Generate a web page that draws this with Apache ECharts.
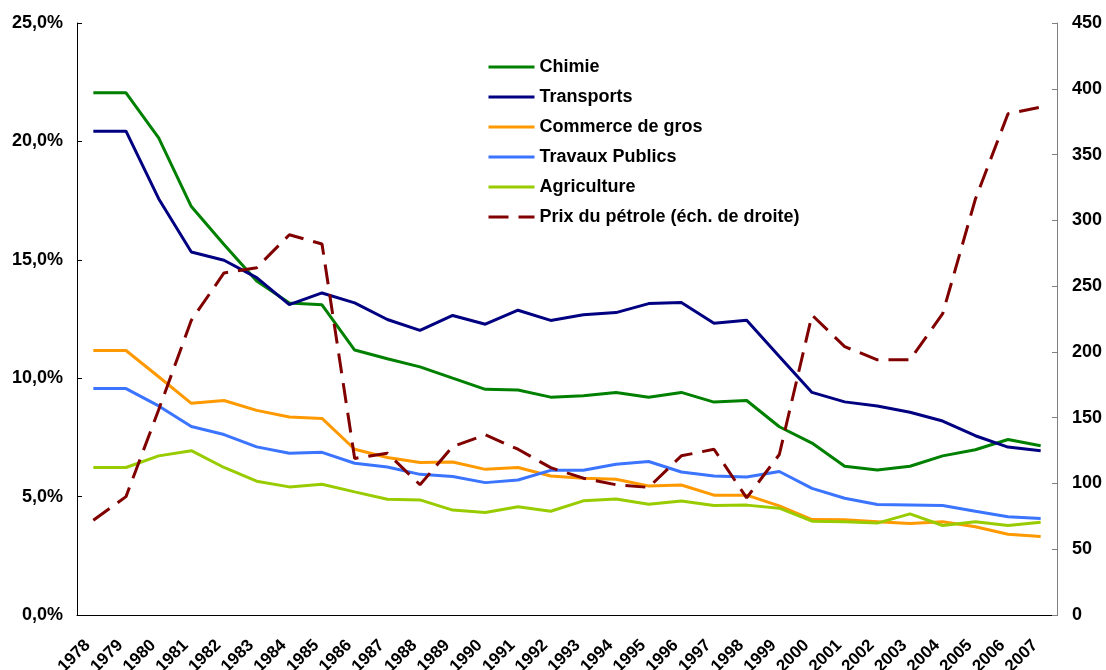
<!DOCTYPE html>
<html>
<head>
<meta charset="utf-8">
<script src="https://cdn.jsdelivr.net/npm/echarts@6/dist/echarts.min.js"></script>
<style>
html,body{margin:0;padding:0;background:#fff;}
#c{width:1106px;height:670px;}
</style>
</head>
<body>
<div id="c"></div>
<script>
const years = ['1978','1979','1980','1981','1982','1983','1984','1985','1986','1987','1988','1989','1990','1991','1992','1993','1994','1995','1996','1997','1998','1999','2000','2001','2002','2003','2004','2005','2006','2007'];
const chimie = [22.05,22.05,20.15,17.25,15.65,14.1,13.18,13.1,11.19,10.82,10.48,10.0,9.53,9.5,9.2,9.26,9.4,9.2,9.4,8.99,9.06,7.95,7.26,6.28,6.12,6.28,6.72,6.98,7.41,7.15];
const transports = [20.43,20.43,17.58,15.33,14.98,14.25,13.11,13.6,13.18,12.48,12.02,12.65,12.28,12.87,12.44,12.68,12.77,13.15,13.2,12.32,12.45,10.92,9.4,9.0,8.83,8.56,8.19,7.57,7.09,6.94];
const commerce = [11.17,11.17,10.06,8.94,9.06,8.64,8.36,8.3,7.0,6.65,6.44,6.46,6.15,6.23,5.87,5.78,5.73,5.45,5.49,5.06,5.06,4.61,4.03,4.02,3.94,3.86,3.94,3.73,3.41,3.31];
const travaux = [9.56,9.56,8.83,7.96,7.62,7.1,6.83,6.87,6.41,6.25,5.94,5.85,5.59,5.7,6.11,6.11,6.37,6.48,6.04,5.87,5.83,6.06,5.35,4.93,4.67,4.65,4.62,4.38,4.15,4.07];
const agriculture = [6.23,6.23,6.72,6.94,6.23,5.65,5.41,5.52,5.2,4.89,4.86,4.43,4.33,4.57,4.38,4.82,4.9,4.68,4.81,4.62,4.64,4.51,3.96,3.94,3.88,4.27,3.78,3.94,3.78,3.92];
const prix = [72,90,156,224,260,264,289,282,119,123,99,128,137,126,112,104,99,97,121,126,89,122,228,204,194,194,229,316,381,386];
const leftTicks = {min:0, max:25, interval:5};
const rightTicks = {min:0, max:450, interval:50};

const FONT = '"Liberation Sans", Arial, sans-serif';
const chart = echarts.init(document.getElementById('c'), null, {renderer:'canvas'});
function line(name, data, color, extra) {
  return Object.assign({
    name, type:'line', data, symbol:'none', smooth:false,
    lineStyle:{color, width:3}, itemStyle:{color}, animation:false
  }, extra||{});
}
chart.setOption({
  animation:false,
  backgroundColor:'#fff',
  grid:{left:77, right:49, top:23, bottom:55, containLabel:false, outerBoundsMode:'none'},
  legend:{
    orient:'vertical', left:482, top:53,
    itemWidth:46, itemHeight:14, itemGap:12,
    itemStyle:{opacity:0},
    lineStyle:{width:3},
    textStyle:{fontFamily:FONT, fontWeight:'bold', fontSize:18, color:'#000', lineHeight:18},
    data:['Chimie','Transports','Commerce de gros','Travaux Publics','Agriculture','Prix du pétrole (éch. de droite)']
  },
  xAxis:{
    type:'category', data:years, boundaryGap:true,
    axisLine:{lineStyle:{color:'#000', width:1}},
    axisTick:{inside:true, length:5, lineStyle:{color:'#000'}},
    axisLabel:{rotate:45, margin:22, padding:[0,8,0,0], interval:0, fontFamily:FONT, fontWeight:'bold', fontSize:17, color:'#000'},
    splitLine:{show:false}
  },
  yAxis:[
    {type:'value', min:leftTicks.min, max:leftTicks.max, interval:leftTicks.interval, position:'left',
     axisLine:{show:true, lineStyle:{color:'#000'}},
     axisTick:{show:true, inside:true, length:5, lineStyle:{color:'#000'}},
     axisLabel:{margin:14, fontFamily:FONT, fontWeight:'bold', fontSize:18, color:'#000',
       formatter:v=>v.toFixed(1).replace('.',',')+'%'},
     splitLine:{show:false}},
    {type:'value', min:rightTicks.min, max:rightTicks.max, interval:rightTicks.interval, position:'right',
     axisLine:{show:true, lineStyle:{color:'#808080'}},
     axisTick:{show:true, inside:true, length:5, lineStyle:{color:'#808080'}},
     axisLabel:{margin:15, fontFamily:FONT, fontWeight:'bold', fontSize:18, color:'#000'},
     splitLine:{show:false}}
  ],
  series:[
    line('Chimie', chimie, '#008000'),
    line('Transports', transports, '#000080'),
    line('Commerce de gros', commerce, '#FF9900'),
    line('Travaux Publics', travaux, '#3B74FF'),
    line('Agriculture', agriculture, '#99CC00'),
    line('Prix du pétrole (éch. de droite)', prix, '#800000', {yAxisIndex:1, lineStyle:{color:'#800000', width:3, type:[20,10]}})
  ]
});
</script>
</body>
</html>
